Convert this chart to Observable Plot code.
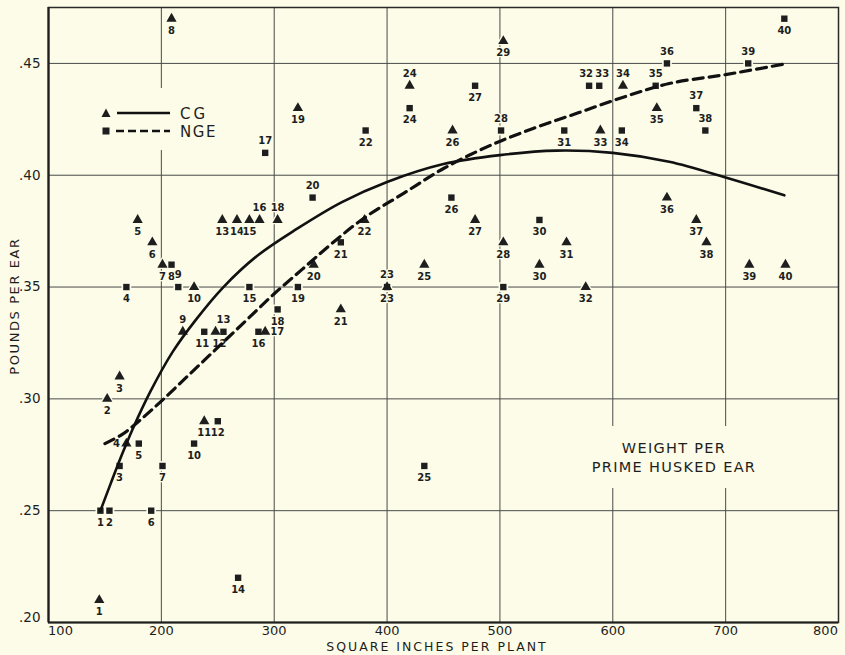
<!DOCTYPE html>
<html>
<head>
<meta charset="utf-8">
<script src="https://cdn.jsdelivr.net/npm/d3@7"></script>
<script src="https://cdn.jsdelivr.net/npm/@observablehq/plot@0.6"></script>
<style>
  html, body { margin: 0; padding: 0; background: #fcfce8; }
  #chart { position: relative; width: 845px; height: 655px; font-family: "DejaVu Sans", sans-serif; color: #1e1e1e; overflow: hidden; }
  #chart svg { position: absolute; left: 0; top: 0; }
  .overlay { position: absolute; background: #fcfce8; }
  .xtitle { position: absolute; left: 437px; top: 647px; transform: translate(-50%, -50%); font-size: 12.5px; letter-spacing: 2px; white-space: nowrap; line-height: 12px; }
  .ytitle { position: absolute; left: 14px; top: 306px; transform: translate(-50%, -50%) rotate(-90deg); font-size: 13px; letter-spacing: 1.6px; white-space: nowrap; }
  .note { left: 582px; top: 426px; width: 184px; height: 62px; text-align: center; font-size: 14.5px; letter-spacing: 1.3px; line-height: 19px; padding-top: 2px; box-sizing: border-box; display: flex; flex-direction: column; justify-content: center; }
  .legend { left: 96px; top: 88px; width: 136px; height: 62px; }
</style>
</head>
<body>
<div id="chart"></div>
<script>
// Plot numbers shared by both series
const plotNo = [1,2,3,4,5,6,7,8,9,10,11,12,13,14,15,16,17,18,19,20,
                21,22,23,24,25,26,27,28,29,30,31,32,33,34,35,36,37,38,39,40];

// CG: square inches per plant, pounds per ear
const cgSpacing = [145,152,163,169,179,192,201,209,219,229,238,248,254,267,278,287,292,303,321,335,
                   359,380,400,420,433,458,478,503,503,535,559,576,589,609,639,648,674,683,721,753];
const cgWeight  = [.21,.30,.31,.28,.38,.37,.36,.47,.33,.35,.29,.33,.38,.38,.38,.38,.33,.38,.43,.36,
                   .34,.38,.35,.44,.36,.42,.38,.37,.46,.36,.37,.35,.42,.44,.43,.39,.38,.37,.36,.36];

// NGE: square inches per plant, pounds per ear
const ngeSpacing = [146,154,163,169,180,191,201,209,215,229,238,250,255,268,278,286,292,303,321,334,
                    359,381,400,420,433,457,478,501,503,535,557,579,588,608,638,648,674,682,720,752];
const ngeWeight  = [.25,.25,.27,.35,.28,.25,.27,.36,.35,.28,.33,.29,.33,.22,.35,.33,.41,.34,.35,.39,
                    .37,.42,.35,.43,.27,.39,.44,.42,.35,.38,.42,.44,.44,.42,.44,.45,.43,.42,.45,.47];

// fitted curves, sampled along their length
const cgCurveX  = [146,155,165,175,190,210,230,255,285,320,360,400,450,500,550,600,650,700,752];
const cgCurveY  = [.250,.262,.275,.287,.303,.321,.335,.350,.364,.376,.388,.397,.405,.409,.411,.410,.406,.399,.391];
const ngeCurveX = [150,165,180,200,225,250,275,300,325,350,380,415,450,490,530,570,610,650,700,755];
const ngeCurveY = [.280,.284,.290,.299,.311,.323,.335,.347,.358,.369,.381,.392,.403,.413,.421,.428,.435,.441,.445,.450];

// axis ticks
const xTicks = [100,200,300,400,500,600,700,800];
const yTicks = [.20,.25,.30,.35,.40,.45];

// which number labels sit above / beside their marker (the rest sit below)
const cgAbove = [9,16,18,23,24,34], cgLeft = [4], cgRight = [17];
const ngeAbove = [9,13,17,20,28,32,33,35,36,37,38,39], ngeLeft = [], ngeRight = [];
// small sideways shifts (px) for crowded labels
const cgShift = {12: 4};
const ngeShift = {11: -2, 32: -3, 33: 3};

const bg = "#fcfce8";
const ink = "#1e1e1e";

const cg = plotNo.map((n, i) => ({n, x: cgSpacing[i], y: cgWeight[i]}));
const nge = plotNo.map((n, i) => ({n, x: ngeSpacing[i], y: ngeWeight[i]}));
const cgCurve = cgCurveX.map((x, i) => ({x, y: cgCurveY[i]}));
const ngeCurve = ngeCurveX.map((x, i) => ({x, y: ngeCurveY[i]}));

const fmtY = d => d3.format(".2f")(d).replace(/^0/, "");

function numberMarks(data, above, left, right, shift) {
  const where = d => above.includes(d.n) ? "above" : left.includes(d.n) ? "left" : right.includes(d.n) ? "right" : "below";
  const offset = {below: [0, 12], above: [0, -12], left: [-10, 0], right: [12, 0]};
  const opts = {x: "x", y: "y", text: "n", fontSize: 10, fontWeight: "bold", fill: ink,
                stroke: bg, strokeWidth: 2.5, paintOrder: "stroke", letterSpacing: -0.6};
  const marks = [];
  for (const side of Object.keys(offset)) {
    const [dx, dy] = offset[side];
    marks.push(Plot.text(data.filter(d => where(d) === side && !(d.n in shift)), {...opts, dx, dy}));
    for (const d of data.filter(d => where(d) === side && d.n in shift)) {
      marks.push(Plot.text([d], {...opts, dx: dx + shift[d.n], dy}));
    }
  }
  return marks;
}

const axisOpts = {tickSize: 0, fontSize: 13, label: null};

const chart = Plot.plot({
  width: 845,
  height: 655,
  marginLeft: 48,
  marginRight: 7,
  marginTop: 7,
  marginBottom: 33,
  style: {background: "transparent", fontFamily: "DejaVu Sans, sans-serif", color: ink},
  x: {domain: [100, 800]},
  y: {domain: [.20, .475]},
  marks: [
    Plot.gridX(xTicks.slice(1, -1), {stroke: "#4a4a4a", strokeOpacity: 1, strokeWidth: 1}),
    Plot.gridY(yTicks.slice(1), {stroke: "#4a4a4a", strokeOpacity: 1, strokeWidth: 1}),
    Plot.frame({stroke: "#2a2a2a", strokeWidth: 1.5}),
    Plot.ruleX([100], {stroke: "#1e1e1e", strokeWidth: 2.2}),
    Plot.ruleY([.20], {stroke: "#1e1e1e", strokeWidth: 2.2}),
    Plot.axisY(yTicks.slice(1), {...axisOpts, fontSize: 13.5, tickPadding: 8, tickFormat: fmtY}),
    Plot.axisY([.20], {...axisOpts, fontSize: 13.5, tickPadding: 8, tickFormat: fmtY, dy: -5}),
    Plot.axisX(xTicks.slice(1, -1), {...axisOpts, tickPadding: 3}),
    Plot.axisX([100], {...axisOpts, tickPadding: 3, dx: 12}),
    Plot.axisX([800], {...axisOpts, tickPadding: 3, dx: -13}),
    ...numberMarks(cg, cgAbove, cgLeft, cgRight, cgShift),
    ...numberMarks(nge, ngeAbove, ngeLeft, ngeRight, ngeShift),
    // paper-coloured backing so grid lines break around the markers
    Plot.dot(cg, {x: "x", y: "y", symbol: "triangle", r: 5.5, fill: bg}),
    Plot.dot(nge, {x: "x", y: "y", symbol: "square", r: 5.5, fill: bg}),
    Plot.dot(cg, {x: "x", y: "y", symbol: "triangle", r: 3.8, fill: ink}),
    Plot.dot(nge, {x: "x", y: "y", symbol: "square", r: 3.6, fill: ink}),
    Plot.line(cgCurve, {x: "x", y: "y", curve: "catmull-rom", stroke: "#111", strokeWidth: 2.6}),
    Plot.line(ngeCurve, {x: "x", y: "y", curve: "catmull-rom", stroke: "#111", strokeWidth: 3.2, strokeDasharray: "10,6"})
  ]
});

const root = document.getElementById("chart");
root.appendChild(chart);

// legend
const legend = document.createElement("div");
legend.className = "overlay legend";
legend.innerHTML = `
<svg width="136" height="62" style="position:absolute;left:0;top:0;overflow:visible">
  <path d="M10,20.5 L14.5,29 L5.5,29 Z" fill="${ink}"/>
  <line x1="21" y1="25" x2="74" y2="25" stroke="#111" stroke-width="2.4"/>
  <text x="84" y="30.5" font-size="15" letter-spacing="3" fill="${ink}" font-family="DejaVu Sans, sans-serif">CG</text>
  <rect x="6.5" y="39.5" width="7" height="7" fill="${ink}"/>
  <line x1="20" y1="43" x2="74" y2="43" stroke="#111" stroke-width="2.6" stroke-dasharray="8,4"/>
  <text x="84" y="48.5" font-size="15" letter-spacing="1.6" fill="${ink}" font-family="DejaVu Sans, sans-serif">NGE</text>
</svg>`;
root.appendChild(legend);

// annotation
const note = document.createElement("div");
note.className = "overlay note";
note.innerHTML = "<div>WEIGHT PER</div><div>PRIME HUSKED EAR</div>";
root.appendChild(note);

// axis titles
const xt = document.createElement("div");
xt.className = "xtitle";
xt.textContent = "SQUARE INCHES PER PLANT";
root.appendChild(xt);

const yt = document.createElement("div");
yt.className = "ytitle";
yt.textContent = "POUNDS PER EAR";
root.appendChild(yt);
</script>
</body>
</html>
